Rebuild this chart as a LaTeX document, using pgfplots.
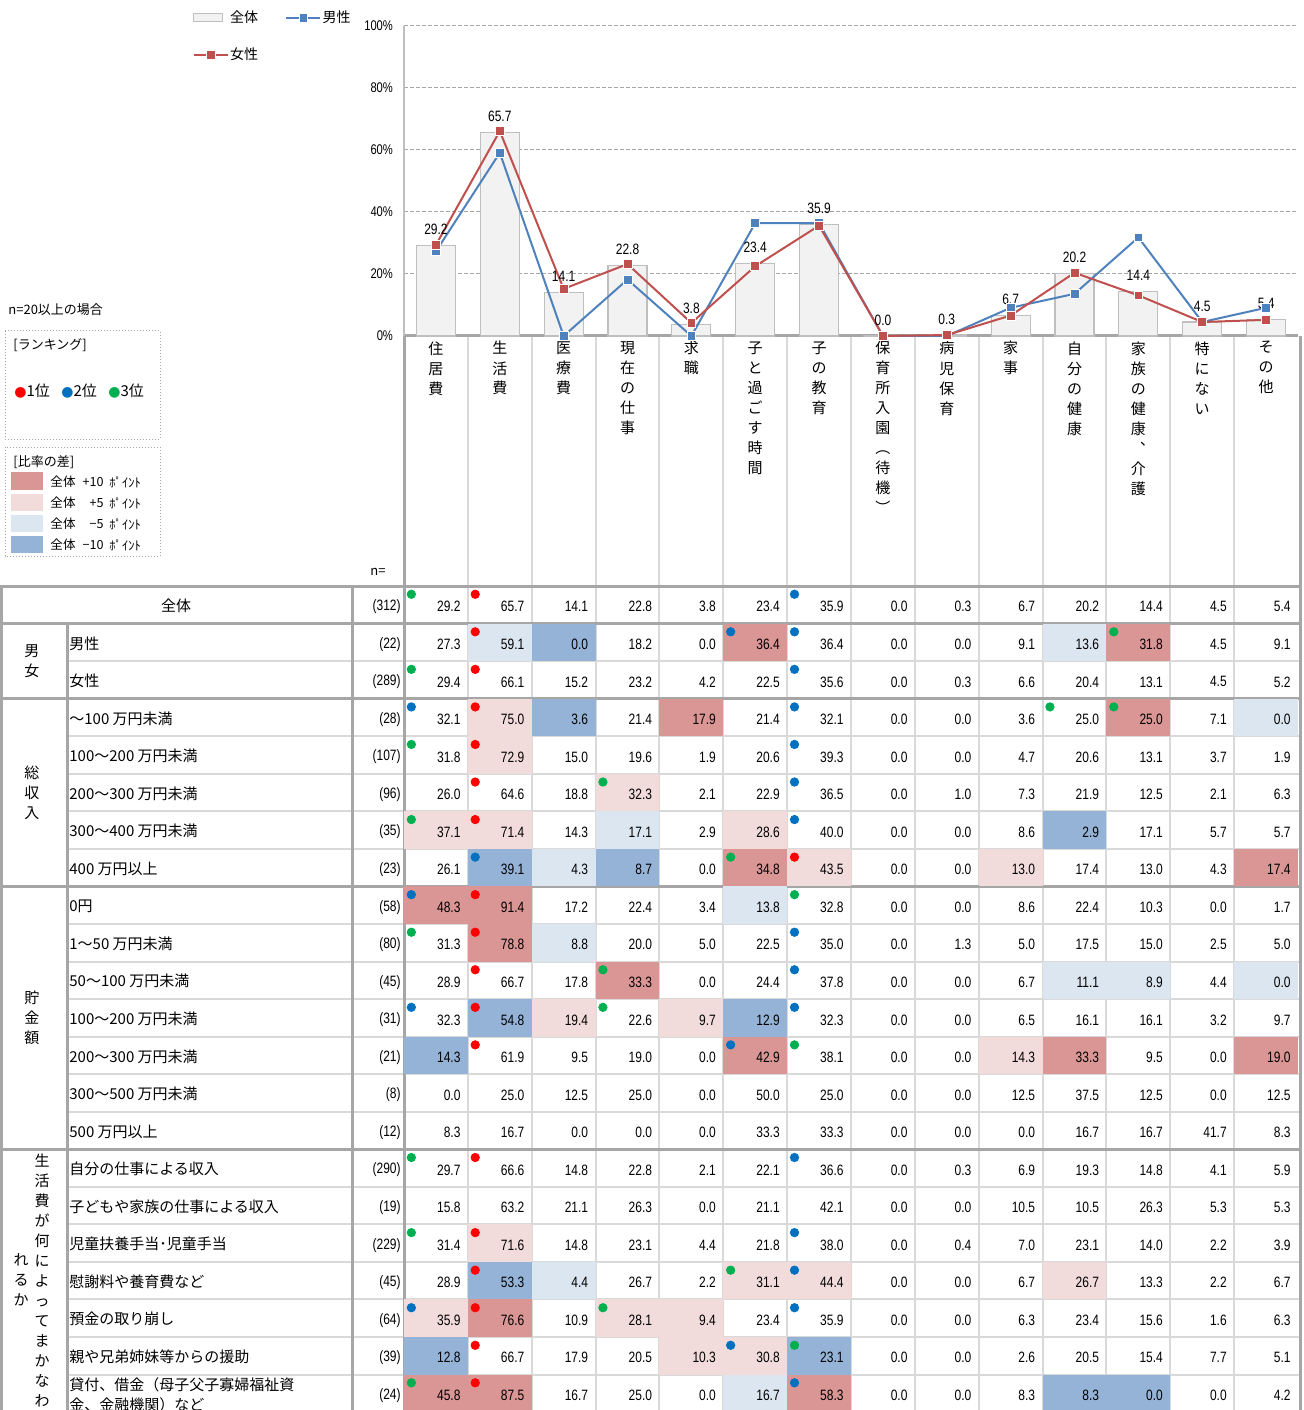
\documentclass[border=0pt]{standalone}
\usepackage{fontspec}
\setmainfont{Noto Sans CJK JP}
\newfontfamily\narrow[FakeStretch=0.8]{Liberation Sans}
\newfontfamily\sym{DejaVu Sans}
\usepackage{pgfplots}
\usepackage{pgfplotstable}
\pgfplotsset{compat=1.18}

\definecolor{pkD}{RGB}{218,150,148}
\definecolor{pkL}{RGB}{242,220,219}
\definecolor{blL}{RGB}{220,230,241}
\definecolor{blD}{RGB}{149,179,215}
\definecolor{rk1}{RGB}{255,0,0}
\definecolor{rk2}{RGB}{0,112,192}
\definecolor{rk3}{RGB}{0,176,80}
\definecolor{menC}{RGB}{79,129,189}
\definecolor{womC}{RGB}{192,80,77}
\definecolor{barF}{RGB}{242,242,242}
\definecolor{barE}{RGB}{191,191,191}
\definecolor{ruleD}{RGB}{166,166,166}
\definecolor{ruleL}{RGB}{217,217,217}

\newcommand\fs[2]{\fontsize{#1}{#2}\selectfont}

% table cell background and an empty mark
\pgfdeclareplotmark{cell}{\pgfpathrectangle{\pgfqpoint{-15.97pt}{-9.39pt}}{\pgfqpoint{31.93pt}{18.78pt}}\pgfusepathqfill}
\pgfdeclareplotmark{nomark}{}

% row label and sample size
\newcommand\rowlab[3]{%
  \node[anchor=west, align=left, font=\fs{7.5}{10}, inner sep=0pt] at (axis cs:69,{587+37.55*(#1+0.5)}) {#2};
  \node[anchor=east, font=\narrow\fs{7.5}{9}, inner sep=0pt] at (axis cs:401,{588+37.55*(#1+0.5)}) {(#3)};}
% vertical category label under the chart
\newcommand\vlab[2]{\node[anchor=north, align=center, font=\fs{7.5}{10}, inner sep=0pt] at (axis cs:{404+63.857*(#1+0.5)},341) {#2};}
% one line of the difference key
\newcommand\diffkey[2]{%
  \node[anchor=west, font=\fs{6.3}{8}, inner sep=0pt] at (axis cs:50,#1) {全体};
  \node[anchor=east, font=\fs{6.3}{8}, inner sep=0pt] at (axis cs:104,#1) {#2};
  \node[anchor=west, font=\fs{6.3}{8}, inner sep=0pt] at (axis cs:109,#1) {ﾎﾟｲﾝﾄ};}

\pgfplotstableread{
x all men women
0 29.2 27.3 29.4
1 65.7 59.1 66.1
2 14.1 0.0 15.2
3 22.8 18.2 23.2
4 3.8 0.0 4.2
5 23.4 36.4 22.5
6 35.9 36.4 35.6
7 0.0 0.0 0.0
8 0.3 0.0 0.3
9 6.7 9.1 6.6
10 20.2 13.6 20.4
11 14.4 31.8 13.1
12 4.5 4.5 4.5
13 5.4 9.1 5.2
}\chartdata

\pgfplotstableread{
v0 v1 v2 v3 v4 v5 v6 v7 v8 v9 v10 v11 v12 v13
29.2 65.7 14.1 22.8 3.8 23.4 35.9 0.0 0.3 6.7 20.2 14.4 4.5 5.4
27.3 59.1 0.0 18.2 0.0 36.4 36.4 0.0 0.0 9.1 13.6 31.8 4.5 9.1
29.4 66.1 15.2 23.2 4.2 22.5 35.6 0.0 0.3 6.6 20.4 13.1 4.5 5.2
32.1 75.0 3.6 21.4 17.9 21.4 32.1 0.0 0.0 3.6 25.0 25.0 7.1 0.0
31.8 72.9 15.0 19.6 1.9 20.6 39.3 0.0 0.0 4.7 20.6 13.1 3.7 1.9
26.0 64.6 18.8 32.3 2.1 22.9 36.5 0.0 1.0 7.3 21.9 12.5 2.1 6.3
37.1 71.4 14.3 17.1 2.9 28.6 40.0 0.0 0.0 8.6 2.9 17.1 5.7 5.7
26.1 39.1 4.3 8.7 0.0 34.8 43.5 0.0 0.0 13.0 17.4 13.0 4.3 17.4
48.3 91.4 17.2 22.4 3.4 13.8 32.8 0.0 0.0 8.6 22.4 10.3 0.0 1.7
31.3 78.8 8.8 20.0 5.0 22.5 35.0 0.0 1.3 5.0 17.5 15.0 2.5 5.0
28.9 66.7 17.8 33.3 0.0 24.4 37.8 0.0 0.0 6.7 11.1 8.9 4.4 0.0
32.3 54.8 19.4 22.6 9.7 12.9 32.3 0.0 0.0 6.5 16.1 16.1 3.2 9.7
14.3 61.9 9.5 19.0 0.0 42.9 38.1 0.0 0.0 14.3 33.3 9.5 0.0 19.0
0.0 25.0 12.5 25.0 0.0 50.0 25.0 0.0 0.0 12.5 37.5 12.5 0.0 12.5
8.3 16.7 0.0 0.0 0.0 33.3 33.3 0.0 0.0 0.0 16.7 16.7 41.7 8.3
29.7 66.6 14.8 22.8 2.1 22.1 36.6 0.0 0.3 6.9 19.3 14.8 4.1 5.9
15.8 63.2 21.1 26.3 0.0 21.1 42.1 0.0 0.0 10.5 10.5 26.3 5.3 5.3
31.4 71.6 14.8 23.1 4.4 21.8 38.0 0.0 0.4 7.0 23.1 14.0 2.2 3.9
28.9 53.3 4.4 26.7 2.2 31.1 44.4 0.0 0.0 6.7 26.7 13.3 2.2 6.7
35.9 76.6 10.9 28.1 9.4 23.4 35.9 0.0 0.0 6.3 23.4 15.6 1.6 6.3
12.8 66.7 17.9 20.5 10.3 30.8 23.1 0.0 0.0 2.6 20.5 15.4 7.7 5.1
45.8 87.5 16.7 25.0 0.0 16.7 58.3 0.0 0.0 8.3 8.3 0.0 0.0 4.2
}\cellvalues

% difference from the total: 1 = +10, 2 = +5, 3 = -5, 4 = -10 points
\pgfplotstableread{
c0 c1 c2 c3 c4 c5 c6 c7 c8 c9 c10 c11 c12 c13
0 0 0 0 0 0 0 0 0 0 0 0 0 0
0 3 4 0 0 1 0 0 0 0 3 1 0 0
0 0 0 0 0 0 0 0 0 0 0 0 0 0
0 2 4 0 1 0 0 0 0 0 0 1 0 3
0 2 0 0 0 0 0 0 0 0 0 0 0 0
0 0 0 2 0 0 0 0 0 0 0 0 0 0
2 2 0 3 0 2 0 0 0 0 4 0 0 0
0 4 3 4 0 1 2 0 0 2 0 0 0 1
1 1 0 0 0 3 0 0 0 0 0 0 0 0
0 1 3 0 0 0 0 0 0 0 0 0 0 0
0 0 0 1 0 0 0 0 0 0 3 3 0 3
0 4 2 0 2 4 0 0 0 0 0 0 0 0
4 0 0 0 0 1 0 0 0 2 1 0 0 1
0 0 0 0 0 0 0 0 0 0 0 0 0 0
0 0 0 0 0 0 0 0 0 0 0 0 0 0
0 0 0 0 0 0 0 0 0 0 0 0 0 0
0 0 0 0 0 0 0 0 0 0 0 0 0 0
0 2 0 0 0 0 0 0 0 0 0 0 0 0
0 4 3 0 0 2 2 0 0 0 2 0 0 0
2 1 0 2 2 0 0 0 0 0 0 0 0 0
4 0 0 0 2 2 4 0 0 0 0 0 0 0
1 1 0 0 0 3 1 0 0 0 4 4 0 0
}\cellshade

% ranking within each row (1st, 2nd, 3rd)
\pgfplotstableread{
r0 r1 r2 r3 r4 r5 r6 r7 r8 r9 r10 r11 r12 r13
3 1 0 0 0 0 2 0 0 0 0 0 0 0
0 1 0 0 0 2 2 0 0 0 0 3 0 0
3 1 0 0 0 0 2 0 0 0 0 0 0 0
2 1 0 0 0 0 2 0 0 0 3 3 0 0
3 1 0 0 0 0 2 0 0 0 0 0 0 0
0 1 0 3 0 0 2 0 0 0 0 0 0 0
3 1 0 0 0 0 2 0 0 0 0 0 0 0
0 2 0 0 0 3 1 0 0 0 0 0 0 0
2 1 0 0 0 0 3 0 0 0 0 0 0 0
3 1 0 0 0 0 2 0 0 0 0 0 0 0
0 1 0 3 0 0 2 0 0 0 0 0 0 0
2 1 0 3 0 0 2 0 0 0 0 0 0 0
0 1 0 0 0 2 3 0 0 0 0 0 0 0
0 0 0 0 0 0 0 0 0 0 0 0 0 0
0 0 0 0 0 0 0 0 0 0 0 0 0 0
3 1 0 0 0 0 2 0 0 0 0 0 0 0
0 0 0 0 0 0 0 0 0 0 0 0 0 0
3 1 0 0 0 0 2 0 0 0 0 0 0 0
0 1 0 0 0 3 2 0 0 0 0 0 0 0
2 1 0 3 0 0 2 0 0 0 0 0 0 0
0 1 0 0 0 2 3 0 0 0 0 0 0 0
3 1 0 0 0 0 2 0 0 0 0 0 0 0
}\cellrank

\begin{document}
\begin{tikzpicture}
% ---------- page frame and cross table (pixel-like units) ----------
\begin{axis}[
  scale only axis, width=651.5pt, height=705pt,
  xmin=0, xmax=1303, ymin=0, ymax=1410, y dir=reverse,
  hide axis, clip=false,
]
\coordinate (BL) at (axis cs:0,1410);
\coordinate (TR) at (axis cs:1303,0);
\coordinate (chartSW) at (axis cs:404,336);

% shaded cells
\pgfplotsinvokeforeach{0,...,13}{
  \addplot[scatter, only marks, scatter src=explicit symbolic,
    scatter/classes={0={mark=nomark},1={mark=cell,fill=pkD},2={mark=cell,fill=pkL},
                     3={mark=cell,fill=blL},4={mark=cell,fill=blD}}]
    table[x expr={404+63.857*(#1+0.5)}, y expr={586+37.55*(\coordindex+0.5)}, meta=c#1] {\cellshade};
}

% rules
\pgfplotsinvokeforeach{1,...,13}{
  \draw[ruleL, line width=1pt] (axis cs:{404+63.857*#1},337) -- (axis cs:{404+63.857*#1},1410);
}
\pgfplotsinvokeforeach{2,4,5,6,7,9,10,11,12,13,14,16,17,18,19,20,21}{
  \draw[ruleL, line width=1pt] (axis cs:67,{586+37.55*#1}) -- (axis cs:1300,{586+37.55*#1});
}
\pgfplotsinvokeforeach{0,1,3,8,15}{
  \draw[ruleD, line width=1.5pt] (axis cs:0,{586+37.55*#1}) -- (axis cs:1301,{586+37.55*#1});
}
\draw[ruleD, line width=1.5pt] (axis cs:1.5,586) -- (axis cs:1.5,1410);
\draw[ruleD, line width=1.5pt] (axis cs:67,623.55) -- (axis cs:67,1410);
\draw[ruleD, line width=1.5pt] (axis cs:352.5,586) -- (axis cs:352.5,1410);
\draw[ruleD, line width=1.5pt] (axis cs:404,336) -- (axis cs:404,1410);
\draw[ruleD, line width=1.5pt] (axis cs:1300,336) -- (axis cs:1300,1410);

% values and ranking dots
\pgfplotsinvokeforeach{0,...,13}{
  \addplot[only marks, mark=nomark, point meta=explicit symbolic,
    nodes near coords={\narrow\fs{7.5}{9}\pgfplotspointmeta},
    nodes near coords style={anchor=east, inner sep=0pt}]
    table[x expr={404+63.857*(#1+0.89)}, y expr={588+37.55*(\coordindex+0.5)}, meta=v#1] {\cellvalues};
  \addplot[scatter, only marks, mark size=2.1pt, scatter src=explicit symbolic,
    scatter/classes={0={mark=nomark},1={mark=*,fill=rk1,draw=rk1},
                     2={mark=*,fill=rk2,draw=rk2},3={mark=*,fill=rk3,draw=rk3}}]
    table[x expr={404+63.857*(#1+0.115)}, y expr={586+37.55*(\coordindex+0.22)}, meta=r#1] {\cellrank};
}

% category labels under the chart
\vlab{0}{住\\居\\費}
\vlab{1}{生\\活\\費}
\vlab{2}{医\\療\\費}
\vlab{3}{現\\在\\の\\仕\\事}
\vlab{4}{求\\職}
\vlab{5}{子\\と\\過\\ご\\す\\時\\間}
\vlab{6}{子\\の\\教\\育}
\vlab{7}{保\\育\\所\\入\\園\\︵\\待\\機\\︶}
\vlab{8}{病\\児\\保\\育}
\vlab{9}{家\\事}
\vlab{10}{自\\分\\の\\健\\康}
\vlab{11}{家\\族\\の\\健\\康\\︑\\介\\護}
\vlab{12}{特\\に\\な\\い}
\vlab{13}{そ\\の\\他}
\node[font=\fs{6.5}{8}, inner sep=0pt] at (axis cs:378,572) {n=};

% row headings
\node[font=\fs{7.5}{10}, inner sep=0pt] at (axis cs:176,{587+37.55*0.5}) {全体};
\node[anchor=east, font=\narrow\fs{7.5}{9}, inner sep=0pt] at (axis cs:401,{588+37.55*0.5}) {(312)};
\rowlab{1}{男性}{22}
\rowlab{2}{女性}{289}
\rowlab{3}{～100 万円未満}{28}
\rowlab{4}{100～200 万円未満}{107}
\rowlab{5}{200～300 万円未満}{96}
\rowlab{6}{300～400 万円未満}{35}
\rowlab{7}{400 万円以上}{23}
\rowlab{8}{0円}{58}
\rowlab{9}{1～50 万円未満}{80}
\rowlab{10}{50～100 万円未満}{45}
\rowlab{11}{100～200 万円未満}{31}
\rowlab{12}{200～300 万円未満}{21}
\rowlab{13}{300～500 万円未満}{8}
\rowlab{14}{500 万円以上}{12}
\rowlab{15}{自分の仕事による収入}{290}
\rowlab{16}{子どもや家族の仕事による収入}{19}
\rowlab{17}{児童扶養手当･児童手当}{229}
\rowlab{18}{慰謝料や養育費など}{45}
\rowlab{19}{預金の取り崩し}{64}
\rowlab{20}{親や兄弟姉妹等からの援助}{39}
\rowlab{21}{貸付、借金（母子父子寡婦福祉資\\金、金融機関）など}{24}

% group headings
\node[align=center, font=\fs{7.5}{10}, inner sep=0pt] at (axis cs:32,661.5) {男\\女};
\node[align=center, font=\fs{7.5}{10}, inner sep=0pt] at (axis cs:32,792.5) {総\\収\\入};
\node[align=center, font=\fs{7.5}{10}, inner sep=0pt] at (axis cs:32,1017.5) {貯\\金\\額};
\node[anchor=north, align=center, font=\fs{7.5}{10}, inner sep=0pt] at (axis cs:42,1153) {生\\活\\費\\が\\何\\に\\よ\\っ\\て\\ま\\か\\な\\わ};
\node[anchor=north, align=center, font=\fs{7.5}{10}, inner sep=0pt] at (axis cs:21,1253) {れ\\る\\か};

% keys on the left
\node[anchor=west, font=\fs{6.5}{8}, inner sep=0pt] at (axis cs:8,310) {n=20以上の場合};
\draw[ruleD, densely dotted, line width=0.5pt] (axis cs:5,331) rectangle (axis cs:160,439);
\node[anchor=west, font=\fs{6.5}{8}, inner sep=0pt] at (axis cs:13,345) {[ランキング]};
\node[anchor=west, font=\fs{7.5}{8}, inner sep=0pt] at (axis cs:14,391) {{\sym\fs{7}{7}\textcolor{rk1}{●}}1位};
\node[anchor=west, font=\fs{7.5}{8}, inner sep=0pt] at (axis cs:61,391) {{\sym\fs{7}{7}\textcolor{rk2}{●}}2位};
\node[anchor=west, font=\fs{7.5}{8}, inner sep=0pt] at (axis cs:108,391) {{\sym\fs{7}{7}\textcolor{rk3}{●}}3位};
\draw[ruleD, densely dotted, line width=0.5pt] (axis cs:5,447) rectangle (axis cs:160,556);
\node[anchor=west, font=\fs{6.5}{8}, inner sep=0pt] at (axis cs:13,462) {[比率の差]};
\fill[pkD] (axis cs:11,472) rectangle (axis cs:43,490);
\fill[pkL] (axis cs:11,494) rectangle (axis cs:43,511);
\fill[blL] (axis cs:11,515) rectangle (axis cs:43,532);
\fill[blD] (axis cs:11,536) rectangle (axis cs:43,553);
\diffkey{482}{+10}
\diffkey{503}{+5}
\diffkey{524}{−5}
\diffkey{545}{−10}
\end{axis}

% ---------- bar and line chart ----------
\begin{axis}[
  at={(chartSW)}, anchor=south west,
  scale only axis, width=447pt, height=155pt,
  xmin=-0.5, xmax=13.5, ymin=0, ymax=100,
  clip=false,
  axis lines*=left,
  x axis line style={draw=ruleD, line width=1.5pt, -},
  y axis line style={draw=barE, line width=0.8pt, -},
  xtick=\empty,
  ytick={0,20,40,60,80,100},
  yticklabels={0\%,20\%,40\%,60\%,80\%,100\%},
  yticklabel style={font=\narrow\fs{7}{8}, xshift=-2pt},
  major tick length=0pt,
  ymajorgrids,
  grid style={ruleD, dash pattern=on 2pt off 1pt, line width=0.5pt},
  legend columns=2,
  legend cell align=left,
  legend style={at={(axis description cs:-0.2435,1.068)}, anchor=north west,
    draw=none, fill=none, font=\fs{7}{8}, row sep=10pt,
    nodes={inner sep=0.6pt},
    /tikz/every even column/.append style={column sep=13pt}},
]
\addplot[ybar, bar width=19.5pt, fill=barF, draw=barE, line width=0.6pt,
  point meta=explicit symbolic,
  nodes near coords={\narrow\fs{7.5}{9}\pgfplotspointmeta},
  nodes near coords style={anchor=south, inner sep=0pt, yshift=5pt, text=black},
  legend image code/.code={\draw[fill=barF, draw=barE, line width=0.6pt] (0pt,-2pt) rectangle (14.5pt,2pt);}]
  table[x=x, y=all, meta=all] {\chartdata};
\addlegendentry{全体}
\addplot[menC, line width=1pt, mark=square*, mark size=2.2pt,
  mark options={fill=menC, draw=white, line width=0.4pt}]
  table[x=x, y=men] {\chartdata};
\addlegendentry{男性}
\addplot[womC, line width=1pt, mark=square*, mark size=2.2pt,
  mark options={fill=womC, draw=white, line width=0.4pt}]
  table[x=x, y=women] {\chartdata};
\addlegendentry{女性}
\end{axis}

\pgfresetboundingbox
\path[use as bounding box] (BL) rectangle (TR);
\end{tikzpicture}
\end{document}
